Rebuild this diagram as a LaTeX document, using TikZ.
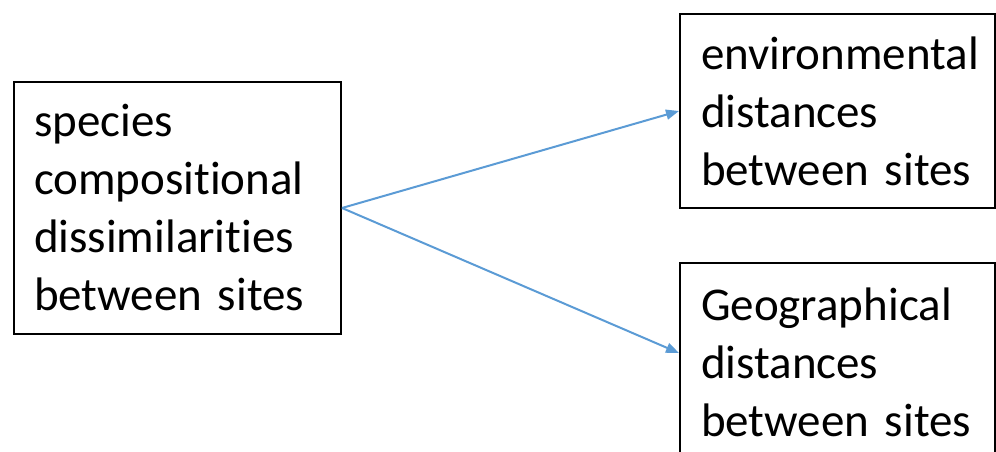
\documentclass[tikz,border=0pt]{standalone}
\usepackage{fontspec}
\setmainfont{Carlito}[Ligatures=NoCommon]
\usetikzlibrary{arrows.meta,calc}
\definecolor{linkblue}{HTML}{5B9BD5}
\begin{document}
\begin{tikzpicture}[x=1bp,y=-1bp,
  box/.style={draw=black, line width=2bp, rectangle, align=left, anchor=north west,
    inner ysep=0pt, font=\fontsize{47bp}{58bp}\selectfont},
  link/.style={draw=linkblue, line width=2bp, -{Triangle[length=13bp,width=10bp]}}]
  \useasboundingbox (0,0) rectangle (996,452);
  \node[box, minimum width=327bp, minimum height=252bp, text width=287bp, inner xsep=20bp]
    (species) at (13,81) {species\\compositional\\dissimilarities\\between sites};
  \node[box, minimum width=315bp, minimum height=194bp, text width=273bp, inner xsep=21bp]
    (env) at (679,13) {environmental\\distances\\between sites};
  \node[box, minimum width=315bp, minimum height=198bp, text width=273bp, inner xsep=21bp]
    (geo) at (679,262) {Geographical\\distances\\between sites};
  \coordinate (geoin) at ($(geo.north west)+(0,91)$);
  \draw[link] (species.east) -- (env.west);
  \draw[link] (species.east) -- (geoin);
\end{tikzpicture}
\end{document}
